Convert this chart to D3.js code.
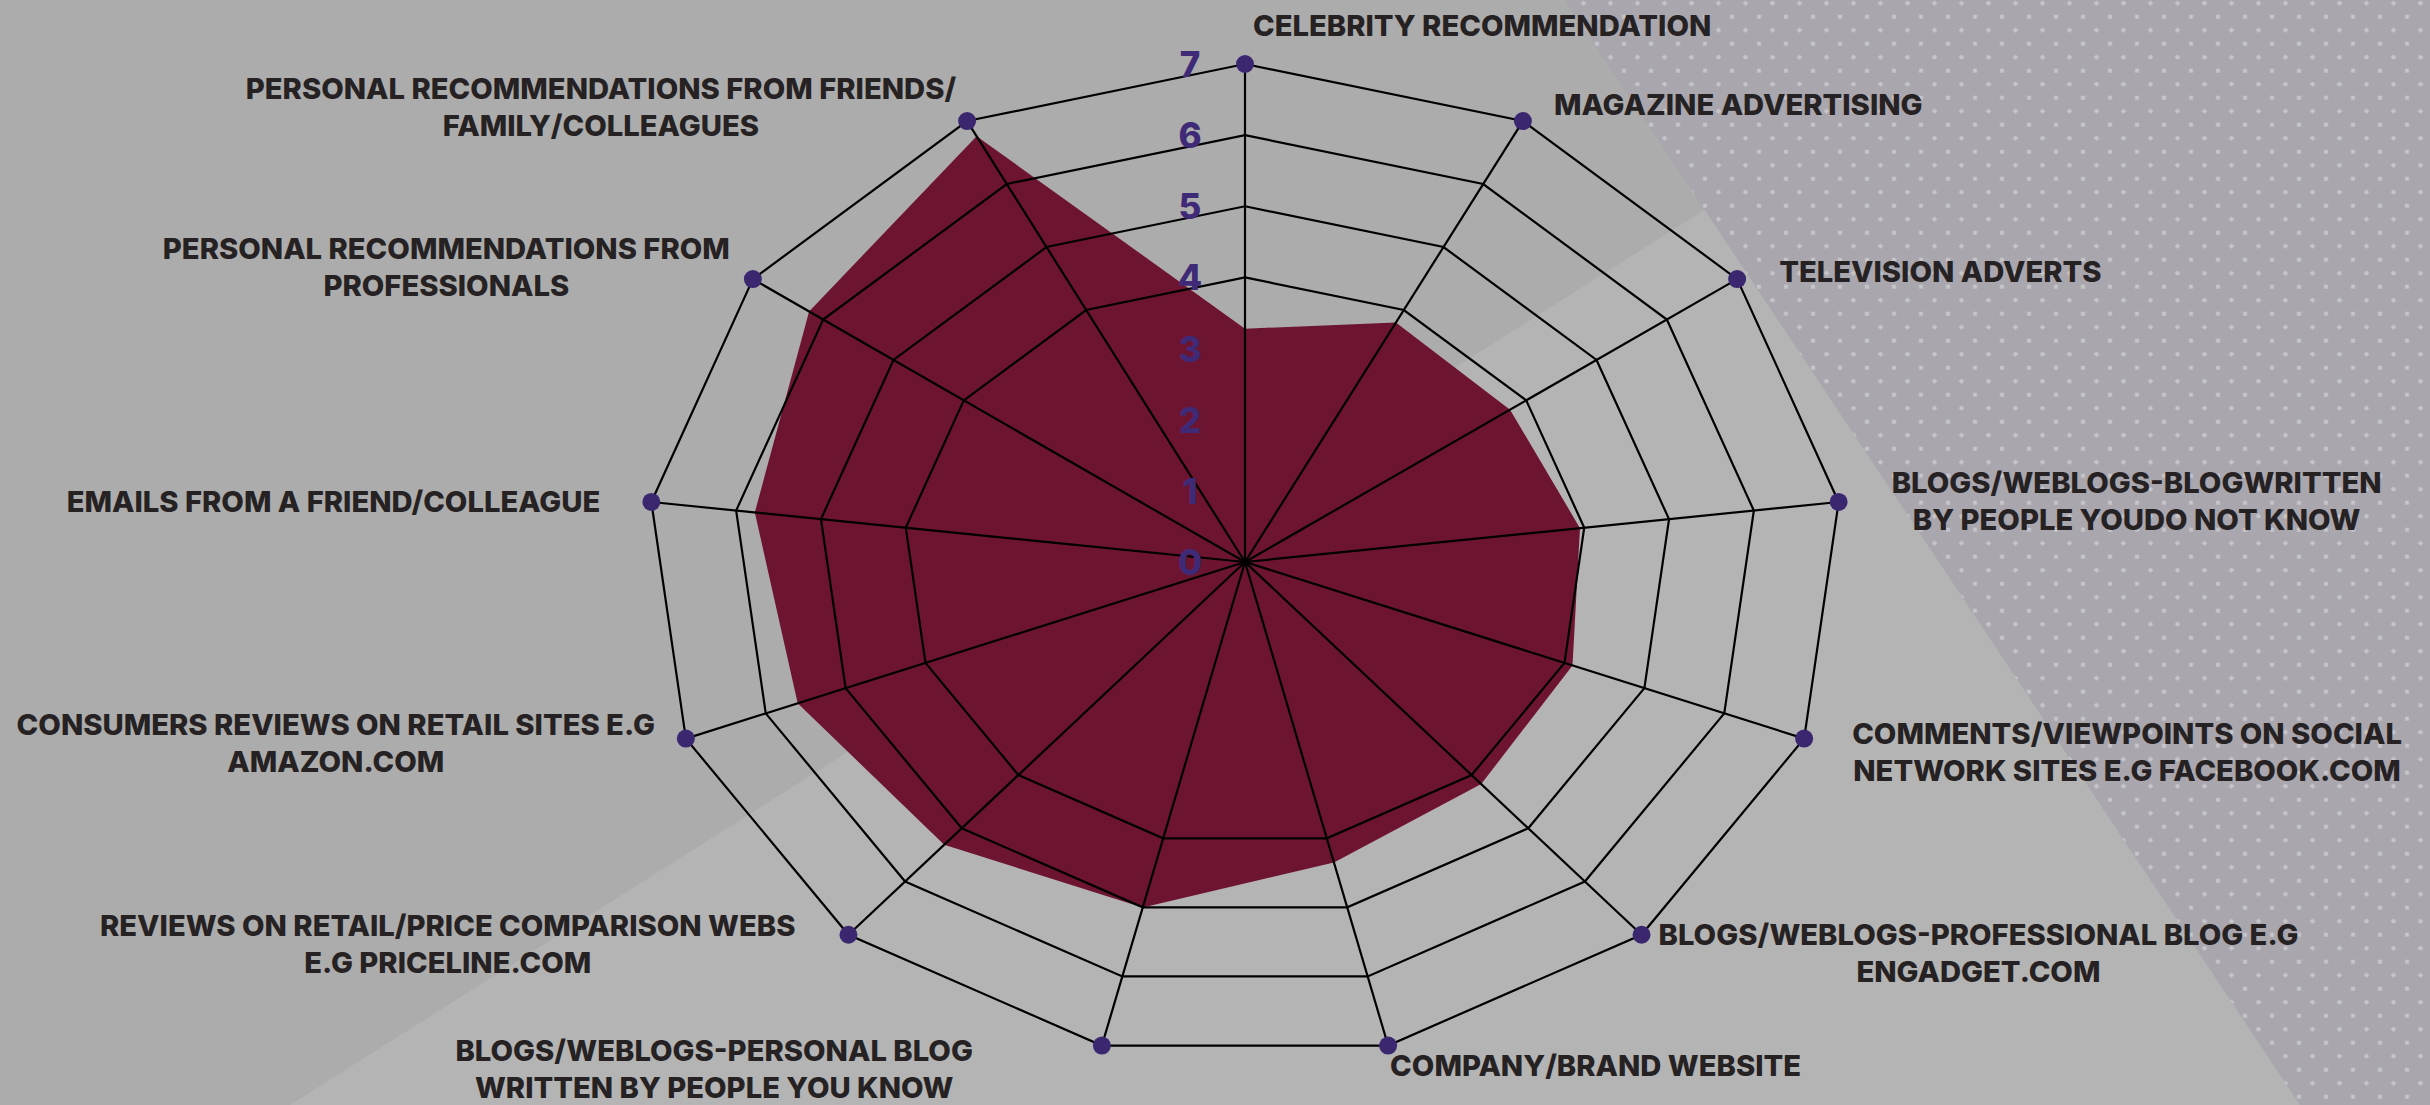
<!DOCTYPE html>
<html>
<head>
<meta charset="utf-8">
<script src="https://cdn.jsdelivr.net/npm/d3@7"></script>
<style>
  html, body { margin: 0; padding: 0; background: #acacac; }
  svg { display: block; }
</style>
</head>
<body>
<svg id="chart" width="2430" height="1105"></svg>
<script>
// Influence of each information source (score out of 7), clockwise from the top
const categories = [
  ["CELEBRITY RECOMMENDATION"],
  ["MAGAZINE ADVERTISING"],
  ["TELEVISION ADVERTS"],
  ["BLOGS/WEBLOGS-BLOGWRITTEN", "BY PEOPLE YOUDO NOT KNOW"],
  ["COMMENTS/VIEWPOINTS ON SOCIAL", "NETWORK SITES E.G FACEBOOK.COM"],
  ["BLOGS/WEBLOGS-PROFESSIONAL BLOG E.G", "ENGADGET.COM"],
  ["COMPANY/BRAND WEBSITE"],
  ["BLOGS/WEBLOGS-PERSONAL BLOG", "WRITTEN BY PEOPLE YOU KNOW"],
  ["REVIEWS ON RETAIL/PRICE COMPARISON WEBS", "E.G PRICELINE.COM"],
  ["CONSUMERS REVIEWS ON RETAIL SITES E.G", "AMAZON.COM"],
  ["EMAILS FROM A FRIEND/COLLEAGUE"],
  ["PERSONAL RECOMMENDATIONS FROM", "PROFESSIONALS"],
  ["PERSONAL RECOMMENDATIONS FROM FRIENDS/", "FAMILY/COLLEAGUES"]
];
const scores = [3.28, 3.8, 3.77, 3.95, 4.1, 4.17, 4.35, 5.0, 5.31, 5.6, 5.78, 6.2, 6.76];
const tickValues = [0, 1, 2, 3, 4, 5, 6, 7];
const ringValues = [4, 5, 6, 7];
const maxScore = 7;

// ---- layout ----
const W = 2430, H = 1105;
const cx = 1245, cy = 562, RX = 598, RY = 498;
const n = categories.length;

// label placement relative to each axis end: block edge alignment and offset
const labelLayout = [
  { align: "start", dx: 8,    dy: -39 },
  { align: "start", dx: 31,   dy: -17 },
  { align: "start", dx: 42,   dy: -8 },
  { align: "start", dx: 53,   dy: -19 },
  { align: "start", dx: 48,   dy: -5 },
  { align: "start", dx: 17,   dy: 0 },
  { align: "start", dx: 2,    dy: 20 },
  { align: "end",   dx: -129, dy: 5 },
  { align: "end",   dx: -53,  dy: -9 },
  { align: "end",   dx: -31,  dy: -14 },
  { align: "end",   dx: -51,  dy: 0 },
  { align: "end",   dx: -23,  dy: -31 },
  { align: "end",   dx: -11,  dy: -33 }
];

const svg = d3.select("#chart");

// ---- background panels ----
const defs = svg.append("defs");
const pat = defs.append("pattern")
  .attr("id", "dots")
  .attr("patternUnits", "userSpaceOnUse")
  .attr("width", 27).attr("height", 27)
  .attr("x", 24.25).attr("y", 9.95);
pat.append("rect").attr("width", 27).attr("height", 27).attr("fill", "#a9a6ae");
pat.append("rect").attr("x", 4.75).attr("y", 4.75).attr("width", 4).attr("height", 4).attr("fill", "#c6c5c9");
pat.append("rect").attr("x", 18.25).attr("y", 18.25).attr("width", 4).attr("height", 4)
  .attr("fill", "#c6c5c9")
  .attr("transform", "rotate(45 20.25 20.25)");

svg.append("rect").attr("width", W).attr("height", H).attr("fill", "#acacac");
// lighter diagonal band
svg.append("path")
  .attr("d", d3.line()([[290, H], [2036, 0], [W, 0], [W, H]]))
  .attr("fill", "#b4b4b4");
// dotted panel on the right
svg.append("path")
  .attr("d", d3.line()([[1565, 0], [W, 0], [W, H], [2300, H]]))
  .attr("fill", "url(#dots)");

// ---- scales ----
const sx = d3.scaleLinear().domain([0, maxScore]).range([0, RX]);
const sy = d3.scaleLinear().domain([0, maxScore]).range([0, RY]);
const angle = d3.scaleLinear().domain([0, n]).range([0, 2 * Math.PI]);
const pt = (i, v) => {
  const a = angle(i);
  return [cx + sx(v) * Math.sin(a), cy - sy(v) * Math.cos(a)];
};
const closed = d3.line().curve(d3.curveLinearClosed);

// ---- data polygon ----
svg.append("path")
  .attr("d", closed(scores.map((v, i) => pt(i, v))))
  .attr("fill", "#6d1430");

// ---- web grid ----
const grid = svg.append("g").attr("fill", "none").attr("stroke", "#000").attr("stroke-width", 2.2)
  .attr("stroke-linejoin", "miter");
ringValues.forEach(t => {
  grid.append("path").attr("d", closed(d3.range(n).map(i => pt(i, t))));
});
d3.range(n).forEach(i => {
  const [x, y] = pt(i, maxScore);
  grid.append("line").attr("x1", cx).attr("y1", cy).attr("x2", x).attr("y2", y);
});

// ---- axis end markers ----
svg.append("g").selectAll("circle")
  .data(d3.range(n))
  .join("circle")
  .attr("cx", i => pt(i, maxScore)[0])
  .attr("cy", i => pt(i, maxScore)[1])
  .attr("r", 9)
  .attr("fill", "#3b2770");

// ---- score ticks along the top axis ----
svg.append("g").selectAll("text")
  .data(tickValues)
  .join("text")
  .attr("x", cx - 55)
  .attr("y", t => pt(0, t)[1])
  .attr("text-anchor", "middle")
  .attr("dominant-baseline", "central")
  .attr("font-family", "Inter, 'Open Sans', sans-serif")
  .attr("font-weight", 800)
  .attr("font-size", 35)
  .attr("fill", "#3f2a78")
  .text(t => t);

// ---- category labels ----
const lineGap = 37;
const labels = svg.append("g")
  .attr("font-family", "Inter, 'Open Sans', sans-serif")
  .attr("font-weight", 800)
  .attr("font-size", 29.2)
  .attr("fill", "#262223");

categories.forEach((lines, i) => {
  const [px, py] = pt(i, maxScore);
  const lay = labelLayout[i];
  const g = labels.append("g");
  const texts = lines.map((s, k) => g.append("text")
    .attr("text-anchor", "middle")
    .attr("dominant-baseline", "central")
    .attr("y", py + lay.dy + k * lineGap)
    .text(s));
  const wMax = d3.max(texts, t => t.node().getComputedTextLength());
  const centerX = lay.align === "start" ? px + lay.dx + wMax / 2 : px + lay.dx - wMax / 2;
  texts.forEach(t => t.attr("x", centerX));
});
</script>
</body>
</html>
